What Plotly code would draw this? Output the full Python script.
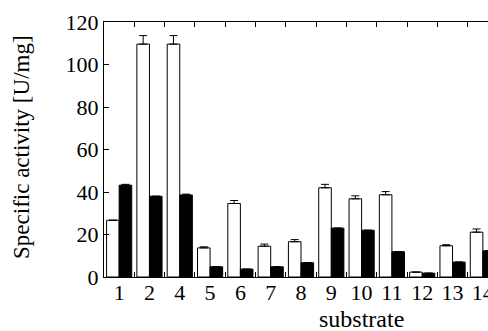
import plotly.graph_objects as go

substrates = ["1", "2", "4", "5", "6", "7", "8", "9", "10", "11", "12", "13", "14"]
white_vals = [26.7, 109.6, 109.6, 13.7, 34.6, 14.5, 16.6, 42.0, 36.8, 38.7, 2.3, 14.7, 21.1]
white_err = [0.0, 4.0, 4.0, 0.5, 1.4, 1.0, 1.0, 1.6, 1.4, 1.5, 0.0, 0.5, 1.5]
black_vals = [43.2, 38.0, 38.6, 4.8, 3.7, 4.8, 6.7, 23.0, 22.0, 11.9, 1.8, 7.0, 12.3]
black_err = [0.4, 0.0, 0.4, 0.0, 0.0, 0.0, 0.0, 0.0, 0.0, 0.0, 0.0, 0.0, 0.0]

font = "Liberation Serif"

fig = go.Figure()
fig.add_trace(go.Bar(
    x=substrates, y=white_vals,
    marker=dict(color="white", line=dict(color="black", width=1)),
    error_y=dict(type="data", array=white_err, arrayminus=[0]*len(white_err),
                 symmetric=False, color="black", thickness=1, width=4),
    showlegend=False,
))
fig.add_trace(go.Bar(
    x=substrates, y=black_vals,
    marker=dict(color="black", line=dict(color="black", width=1)),
    error_y=dict(type="data", array=black_err, arrayminus=[0]*len(black_err),
                 symmetric=False, color="black", thickness=1, width=4),
    showlegend=False,
))

fig.update_layout(
    width=488, height=331,
    margin=dict(l=104, r=0, t=22, b=54, autoexpand=False),
    paper_bgcolor="white", plot_bgcolor="white",
    barmode="group", bargap=0.17, bargroupgap=0,
    font=dict(family=font, size=22, color="black"),
    xaxis=dict(
        type="category", range=[-0.5, 12.17], automargin=False,
        showline=True, linecolor="black", linewidth=1, mirror="ticks",
        ticks="inside", tickson="boundaries", ticklen=5, tickcolor="black",
        showgrid=False, zeroline=False, ticklabeloverflow="allow",
        tickangle=0, ticklabelstandoff=-4,
        tickfont=dict(family=font, size=22),
    ),
    yaxis=dict(
        range=[0, 120], dtick=20, automargin=False,
        showline=True, linecolor="black", linewidth=1, mirror=False,
        ticks="inside", ticklen=5, tickcolor="black",
        showgrid=False, zeroline=False,
        tickfont=dict(family=font, size=22),
    ),
    annotations=[
        dict(text="substrate", xref="x", x="8", yref="paper", y=-0.165,
             xanchor="center", yanchor="middle", showarrow=False,
             font=dict(family=font, size=24)),
        dict(text="Specific activity [U/mg]", xref="paper", x=-0.2135,
             yref="paper", y=0.51, textangle=-90, xanchor="center",
             yanchor="middle", showarrow=False, font=dict(family=font, size=23)),
    ],
)

fig.write_html("out.html", config={"displayModeBar": False},
               post_script="document.body.style.margin='0';")
